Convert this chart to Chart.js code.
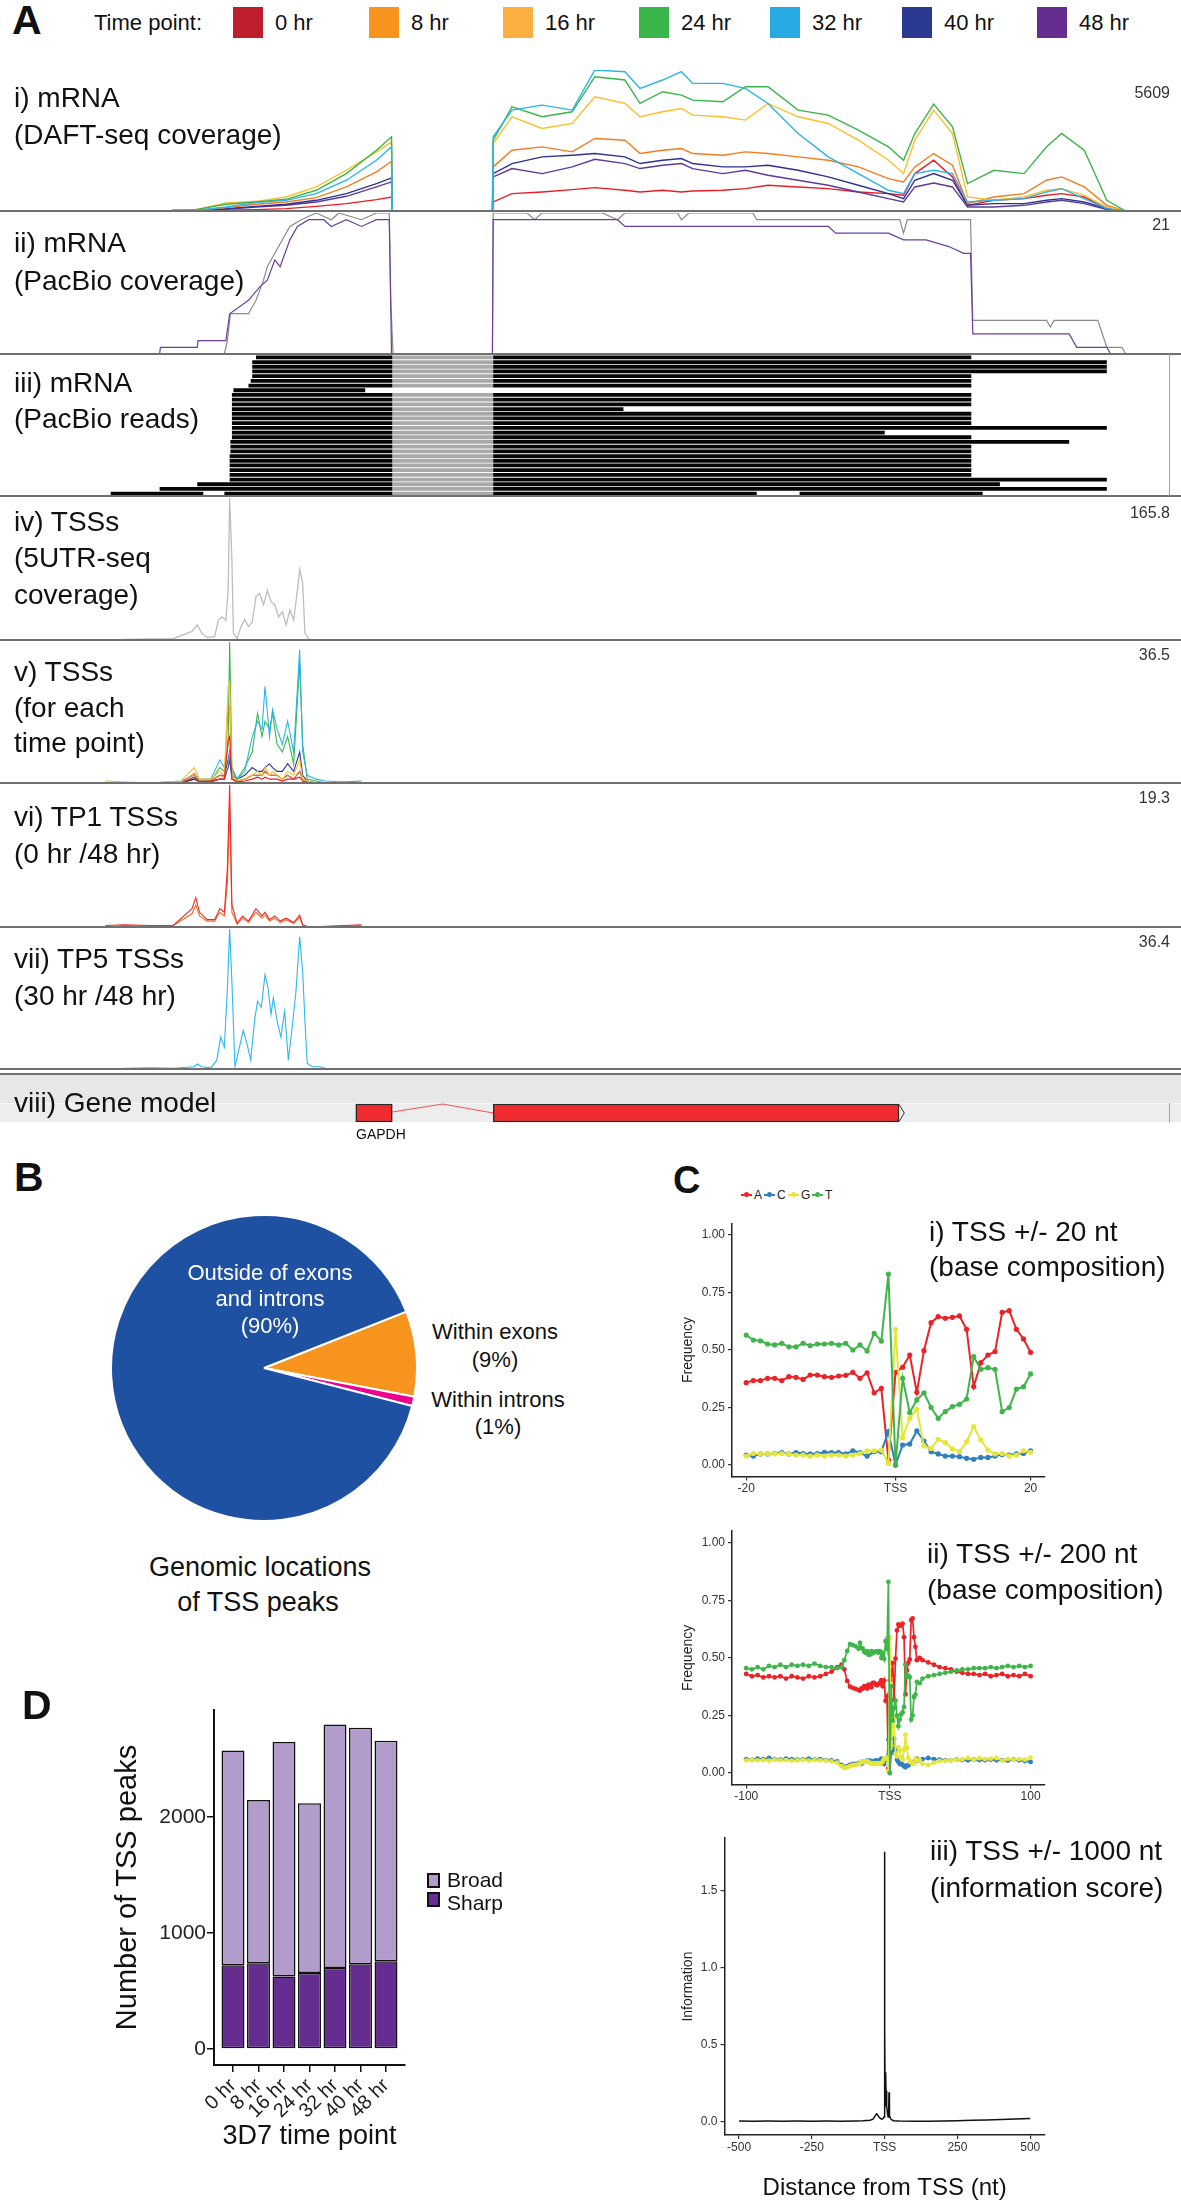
<!DOCTYPE html>
<html>
<head>
<meta charset="utf-8">
<title>TSS figure</title>
<script src="https://cdn.jsdelivr.net/npm/chart.js"></script>
<style>
  html, body { margin:0; padding:0; background:#ffffff; }
  body { position:relative; width:1181px; height:2204px; overflow:hidden;
         font-family:"Liberation Sans", Arial, Helvetica, sans-serif; color:#111; }
  .t { position:absolute; white-space:nowrap; line-height:1; z-index:3; }
  canvas { position:absolute; display:block; z-index:1; }
  .blk { position:absolute; z-index:0; }
</style>
</head>
<body>
<script>
// ===================== DATA =====================
// ---- Panel A : time points ----
const timePoints = ['0 hr','8 hr','16 hr','24 hr','32 hr','40 hr','48 hr'];

// genomic window (relative bp)
const GENOME_MAX = 3137;

// i) DAFT-seq coverage : exon-1 block and exon-2 block
const daftPos1 = [456,520,600,680,760,840,920,1000,1040,1042];
const daft0hr_1  = [0,0,27,53,93,186,292,452,558,0];
const daft8hr_1  = [13,27,133,266,359,532,957,1555,1980,0];
const daft16hr_1 = [27,53,319,385,558,957,1621,2352,2751,0];
const daft24hr_1 = [27,53,266,359,465,824,1488,2419,2950,0];
const daft32hr_1 = [13,27,159,332,425,691,1223,2020,2552,0];
const daft40hr_1 = [0,13,93,186,266,425,691,1090,1316,0];
const daft48hr_1 = [0,13,66,159,226,359,585,957,1156,0];

const daftPos2 = [1308,1310,1360,1440,1520,1580,1660,1700,1760,1810,1840,1920,1980,2040,2120,2200,2280,2360,2400,2430,2480,2530,2570,2640,2720,2780,2820,2880,2940,2990];
const daft0hr_2  = [0,359,691,758,851,930,824,758,824,758,797,824,891,1023,957,891,758,691,625,1488,2020,1356,226,425,492,625,691,558,93,0];
const daft8hr_2  = [0,1754,2419,2552,2352,2884,2817,2286,2419,2485,2286,2219,2352,2286,2153,2020,1754,1289,1156,1754,2286,1821,292,558,691,1223,1356,957,226,0];
const daft16hr_2 = [0,2685,3748,3283,3482,4545,4279,3748,3947,4080,3814,3748,3615,4279,3748,3482,2817,2020,1488,2817,4014,3083,558,425,558,824,890,625,159,0];
const daft24hr_2 = [0,2817,4146,3748,3947,5343,5210,4279,4745,4612,4412,4346,4944,4944,4014,3814,3216,2552,2020,3083,4253,3349,1090,1621,1488,2552,3083,2419,425,0];
const daft32hr_2 = [0,2950,4014,4213,4014,5609,5542,4877,5210,5542,5077,5077,4877,4279,3083,2153,1488,824,691,1488,1621,1488,359,425,492,758,890,492,93,0];
const daft40hr_2 = [0,1488,1887,2153,2219,2286,2153,1887,2020,2087,1887,1754,1754,1821,1621,1356,1023,691,492,1223,1488,1223,226,292,292,425,492,359,93,0];
const daft48hr_2 = [0,1356,1688,1488,1754,2060,1887,1688,1821,1887,1688,1488,1621,1422,1223,1023,758,492,359,957,1116,957,159,159,226,359,425,292,53,0];

// ii) PacBio coverage
const pbGrayPos = [596,604,612,660,680,700,710,740,770,800,840,880,900,960,1000,1034,1038,1044,1308,1310,1400,1420,1440,1600,1640,1660,1800,1810,1830,2000,2010,2390,2400,2410,2578,2584,2780,2790,2800,2916,2940,2980,2990];
const pbGrayCov = [0,2,6,6,8,11,13,16,19,20,21,20,21,20,21,21,8,0,0,21,21,20,21,21,20,21,21,20,21,21,20,20,18,20,20,5,5,4,5,5,1,1,0];
const pbPurplePos = [424,426,524,526,600,610,660,690,710,730,744,770,790,820,860,880,920,960,1000,1034,1040,1308,1310,1640,1660,2200,2220,2360,2400,2460,2520,2560,2578,2584,2840,2860,2940,2950];
const pbPurpleCov = [0,1,1,2,2,6,8,10,11,14,13,17,19,20,20,19,20,19,20,20,0,0,20,20,19,19,18,18,17,17,16,15,15,3,3,1,1,0];

// iii) PacBio reads (row, start, end)
const readRow   = [1,2,3,4,5,6,7,8,9,10,11,12,13,14,15,16,17,18,19,20,21,22,23,24,25,26,27,28,29,30,30,30];
const readStart = [680,670,670,670,670,666,660,620,616,616,616,616,616,616,616,616,616,616,612,612,612,610,610,610,610,610,610,524,424,294,596,2124];
const readEnd   = [2580,2940,2940,2940,2580,2580,2580,970,2580,2580,2580,1656,2580,2580,2580,2940,2350,2580,2840,2580,2580,2580,2580,2580,2580,2580,2940,2656,2940,540,2010,2610];

// iv) 5UTR-seq coverage
const tss5Pos = [330,400,460,510,524,536,550,570,580,590,600,606,610,616,620,630,640,650,660,670,680,690,700,710,720,730,740,750,760,770,780,790,796,804,810,820,840];
const tss5Cov = [0.8,1.2,1.6,10,17.5,8,3,4,23,27,23,58,165.8,93,8,2,15.6,24,15.6,21,50.6,54.5,40.9,58,44.7,40.9,27,33,17.5,35,23,58,82.5,66,8,1,0];

// v) TSSs for each time point
const tsTpPos = [280,400,480,516,530,560,584,596,606,610,616,630,650,670,684,696,704,716,724,736,750,764,780,796,804,816,840,864,960];
const ts0hr  = [0,0,0,1.5,0.3,0.5,1,1,11,12,1,0.3,0.5,1,1.5,1,1.5,1,1,1,0.5,1,1,1.5,0.5,0,0,0,0];
const ts8hr  = [0,0,0,2.5,0.5,0.5,2,1.5,20,20,1,0.5,1,2,2,2,3,2,2,2,1,2,1,3,1,0,0,0,0];
const ts16hr = [0.5,0,0.5,4,1,1,3,2,25,26,2,0.5,1,2,3,2,4,2,3,2,1,3,2,6,1,0.5,0,0,0];
const ts24hr = [0,0,0,1.5,0.5,0.5,4,3,10,36.5,4,1,4,8,18,12,16,14,18,10,8,12,5,31,10,1,0.5,0,0.5];
const ts32hr = [0,0,0.5,2,1,1,6,4,5,8,3,1,3,12,16,14,25,12,19,14,10,16,8,34.5,8,2,1,0.5,0];
const ts40hr = [0,0,0,1,0.5,0.5,2,2,6,8,2,1,2,4,3,3,4,5,4,3,3,5,3,8,2,0.5,0,0,0];
const ts48hr = [0,0,0,1,0.3,0.3,1,1,4,6,1,0.5,1,2,2,2,3,2,2,2,1,2,1,3,1,0.3,0,0,0];

// vi) TP1 TSSs
const tp1Pos = [280,330,400,460,510,520,530,550,570,584,596,604,610,616,630,644,660,680,696,704,716,730,744,760,780,796,804,820,960];
const tp1Rep0hr  = [0.2,0.3,0.2,0.2,2.5,4,2,1,1,2.5,2,8,19.3,3,0.5,1.5,0.8,2.5,1.5,2,1,1.5,0.8,1.2,0.6,1.6,0.3,0,0.3];
const tp1Rep48hr = [0,0.2,0.1,0.2,1.8,3,1.5,0.8,0.8,2,1.5,6,16,2,0.4,1.2,0.6,2,1.2,1.6,0.8,1.2,0.6,1,0.5,1.3,0.2,0,0.2];

// vii) TP5 TSSs
const tp5Pos = [330,400,460,516,524,536,560,576,586,596,604,610,616,624,636,646,656,666,676,684,694,704,712,720,726,736,746,756,766,776,786,796,804,810,816,830,850,864,880];
const tp5Cov = [0.2,0.3,0.2,0.6,1.3,0.6,0.3,2.3,8.3,5.7,21,36.4,22.7,0.6,5.7,10,6.6,2.3,12.5,17.6,16,24.5,21,14.2,18.5,12.5,8.3,15,2.3,10.8,20,34.3,25.3,12.5,1.5,0.6,0.6,0.2,0];

// viii) Gene model (GAPDH)
const geneName = 'GAPDH';
const exonStart = [945, 1310];
const exonEnd   = [1042, 2388];

// track data-range labels
const trackMax = [5609, 21, null, 165.8, 36.5, 19.3, 36.4];

// ---- Panel B ----
const pieLabels  = ['Within exons', 'Within introns', 'Outside of exons and introns'];
const piePercent = [9, 1, 90];

// ---- Panel C ----
const baseNames = ['A','C','G','T'];
const ciPos = [-20,-19,-18,-17,-16,-15,-14,-13,-12,-11,-10,-9,-8,-7,-6,-5,-4,-3,-2,-1,0,1,2,3,4,5,6,7,8,9,10,11,12,13,14,15,16,17,18,19,20];
const ciA = [0.358,0.367,0.367,0.377,0.377,0.367,0.384,0.381,0.372,0.391,0.391,0.384,0.381,0.387,0.39,0.403,0.377,0.401,0.314,0.333,0.022,0.403,0.425,0.478,0.316,0.497,0.619,0.645,0.638,0.642,0.648,0.59,0.341,0.445,0.478,0.493,0.664,0.671,0.59,0.548,0.49];
const ciC = [0.043,0.039,0.048,0.048,0.05,0.054,0.048,0.054,0.05,0.048,0.05,0.055,0.054,0.054,0.048,0.062,0.054,0.039,0.058,0.058,0.145,0,0.087,0.091,0.148,0.104,0.058,0.048,0.039,0.039,0.036,0.029,0.025,0.033,0.033,0.039,0.046,0.043,0.048,0.05,0.062];
const ciG = [0.039,0.05,0.048,0.05,0.048,0.05,0.048,0.043,0.043,0.039,0.043,0.039,0.043,0.043,0.039,0.043,0.05,0.062,0.062,0.065,0.007,0.59,0.119,0.203,0.242,0.083,0.072,0.112,0.097,0.07,0.058,0.101,0.167,0.109,0.065,0.048,0.05,0.039,0.043,0.062,0.055];
const ciT = [0.565,0.543,0.54,0.526,0.522,0.529,0.514,0.514,0.529,0.519,0.526,0.526,0.529,0.522,0.529,0.5,0.522,0.496,0.572,0.539,0.83,0,0.377,0.228,0.283,0.314,0.25,0.203,0.232,0.254,0.264,0.287,0.471,0.416,0.423,0.416,0.232,0.25,0.33,0.34,0.396];

const ciiUpPos = [-100,-96,-92,-88,-84,-80,-76,-72,-68,-64,-60,-56,-52,-48,-44,-40,-36,-33,-31,-29,-27,-25,-23,-21];
const ciiUpA = [0.43,0.42,0.425,0.415,0.42,0.415,0.42,0.41,0.42,0.415,0.41,0.42,0.415,0.42,0.43,0.44,0.46,0.47,0.45,0.4,0.375,0.37,0.365,0.36];
const ciiUpC = [0.06,0.058,0.062,0.06,0.065,0.06,0.058,0.062,0.06,0.058,0.06,0.062,0.058,0.06,0.056,0.055,0.05,0.035,0.025,0.03,0.035,0.04,0.04,0.043];
const ciiUpG = [0.055,0.058,0.055,0.056,0.054,0.058,0.055,0.056,0.054,0.055,0.058,0.054,0.056,0.055,0.054,0.05,0.045,0.03,0.022,0.025,0.03,0.035,0.035,0.04];
const ciiUpT = [0.455,0.45,0.46,0.45,0.465,0.46,0.47,0.46,0.47,0.465,0.47,0.465,0.475,0.465,0.46,0.46,0.455,0.46,0.49,0.53,0.56,0.555,0.55,0.54];
const ciiDownPos = [22,24,28,32,36,40,44,48,52,56,60,64,68,72,76,80,84,88,92,96,100];
const ciiDownA = [0.5,0.49,0.48,0.47,0.46,0.455,0.45,0.44,0.435,0.43,0.43,0.425,0.43,0.42,0.425,0.43,0.42,0.425,0.42,0.43,0.42];
const ciiDownC = [0.055,0.06,0.065,0.06,0.058,0.056,0.055,0.058,0.056,0.055,0.058,0.056,0.055,0.058,0.055,0.056,0.054,0.058,0.055,0.052,0.048];
const ciiDownG = [0.055,0.04,0.035,0.045,0.052,0.054,0.055,0.057,0.059,0.065,0.057,0.064,0.06,0.062,0.065,0.054,0.061,0.057,0.06,0.058,0.067];
const ciiDownT = [0.39,0.41,0.42,0.425,0.43,0.435,0.44,0.445,0.45,0.45,0.455,0.455,0.455,0.46,0.455,0.46,0.465,0.46,0.465,0.46,0.465];

const ciiiPos  = [-500,-450,-400,-350,-300,-250,-200,-150,-100,-75,-50,-40,-35,-30,-28,-25,-20,-15,-10,-5,-2,-1,0,1,2,3,4,5,6,7,8,10,12,14,15,16,17,20,25,30,50,100,150,200,250,300,350,400,450,475,500];
const ciiiInfo = [0.003,0.002,0.003,0.002,0.003,0.002,0.003,0.002,0.004,0.005,0.008,0.015,0.03,0.045,0.05,0.045,0.03,0.02,0.015,0.02,0.03,0.1,1.75,0.6,0.1,0.3,0.32,0.15,0.1,0.2,0.1,0.05,0.03,0.1,0.19,0.15,0.04,0.02,0.01,0.005,0.003,0.002,0.002,0.003,0.005,0.008,0.01,0.013,0.016,0.018,0.02];

const freqTicks = [0, 0.25, 0.5, 0.75, 1];
const freqTickLabels = ['0.00','0.25','0.50','0.75','1.00'];
const ciXTicks = [-20, 1, 20];      const ciXTickLabels = ['-20','TSS','20'];
const ciiXTicks = [-100, 1, 100];   const ciiXTickLabels = ['-100','TSS','100'];
const ciiiXTicks = [-500,-250,0,250,500]; const ciiiXTickLabels = ['-500','-250','TSS','250','500'];
const infoTicks = [0, 0.5, 1, 1.5]; const infoTickLabels = ['0.0','0.5','1.0','1.5'];

// ---- Panel D ----
const dTimeLabels = ['0 hr','8 hr','16 hr','24 hr','32 hr','40 hr','48 hr'];
const sharpPeaks = [721, 739, 624, 655, 698, 730, 756];
const broadPeaks = [1851, 1408, 2023, 1463, 2098, 2040, 1902];
const dYTicks = [0, 1000, 2000];

// ===================== STYLE / HELPERS =====================
Chart.defaults.font.family = '"Liberation Sans", Arial, Helvetica, sans-serif';
Chart.defaults.color = '#222';
const legendColors = ['#be1e2d','#f7941d','#fbb040','#39b54a','#27aae1','#2b3990','#662d91'];
const lineColors   = ['#ed1c24','#f47b20','#fcbf2a','#3ab54a','#2ab4e9','#2e3192','#5f3a98'];
const baseColors   = {A:'#ec2227', C:'#2f7fc1', G:'#e6e53a', T:'#3fb54a'};

function addText(str, x, y, size, o) {
  o = o || {};
  const d = document.createElement('div');
  d.className = 't';
  d.textContent = str;
  d.style.left = x + 'px';
  d.style.top = y + 'px';
  d.style.fontSize = size + 'px';
  if (o.bold) d.style.fontWeight = 'bold';
  if (o.color) d.style.color = o.color;
  const tx = o.align === 'center' ? '-50%' : (o.align === 'right' ? '-100%' : '0');
  d.style.transform = 'translate(' + tx + ', -50%)';
  document.body.appendChild(d);
  return d;
}
function addBlock(x, y, w, h, bg, extra) {
  const d = document.createElement('div');
  d.className = 'blk';
  d.style.left = x + 'px'; d.style.top = y + 'px';
  d.style.width = w + 'px'; d.style.height = h + 'px';
  d.style.background = bg;
  if (extra) Object.assign(d.style, extra);
  document.body.appendChild(d);
  return d;
}
function addCanvas(x, y, w, h) {
  const c = document.createElement('canvas');
  c.width = w; c.height = h;
  c.style.left = x + 'px'; c.style.top = y + 'px';
  c.style.width = w + 'px'; c.style.height = h + 'px';
  document.body.appendChild(c);
  return c;
}
const pts = (xs, ys) => xs.map((x, i) => ({x: x, y: ys[i]}));
const baseOpts = {
  responsive: false, animation: false, events: [], devicePixelRatio: 1,
  plugins: { legend: { display: false }, tooltip: { enabled: false } }
};

// ===================== PANEL A =====================
addText('A', 12, 20, 41, {bold:true});
addText('Time point:', 94, 23, 22);
const swX = [233, 369, 503, 639, 770, 902, 1037];
timePoints.forEach((tp, i) => {
  addBlock(swX[i], 7, 30, 31, legendColors[i]);
  addText(tp, swX[i] + 42, 23, 22);
});

function trackChart(top, bottom, ymax, datasets) {
  const cv = addCanvas(0, top, 1181, bottom - top);
  return new Chart(cv, {
    type: 'line',
    data: { datasets: datasets },
    options: Object.assign({}, baseOpts, {
      layout: { padding: 0 },
      elements: { point: { radius: 0 }, line: { tension: 0 } },
      scales: {
        x: { type: 'linear', min: 0, max: GENOME_MAX, display: false, offset: false },
        y: { type: 'linear', min: 0, max: ymax, display: false, offset: false }
      }
    })
  });
}
const lineDs = (label, xs, ys, color, w) => ({
  label: label, data: pts(xs, ys), borderColor: color, backgroundColor: color,
  borderWidth: w || 1.3, pointRadius: 0, clip: false, fill: false
});

// i) DAFT-seq coverage
const daft1 = [daft0hr_1, daft8hr_1, daft16hr_1, daft24hr_1, daft32hr_1, daft40hr_1, daft48hr_1];
const daft2 = [daft0hr_2, daft8hr_2, daft16hr_2, daft24hr_2, daft32hr_2, daft40hr_2, daft48hr_2];
const daftOrder = [6, 3, 2, 1, 0, 4, 5];
trackChart(70, 211, 5609, timePoints.map((tp, i) => Object.assign(
  lineDs(tp, daftPos1.concat(daftPos2), daft1[i].concat(daft2[i]), lineColors[i], 1.4),
  { order: daftOrder[i] })));

// ii) PacBio coverage
trackChart(213, 354, 21, [
  lineDs('48 hr', pbPurplePos, pbPurpleCov, '#6b3fa0', 1.2),
  lineDs('all', pbGrayPos, pbGrayCov, '#8a8a8a', 1.2)
]);

// iii) PacBio reads (floating horizontal bars)
(function () {
  const rows = Array.from(new Set(readRow)).map(String);
  const blocks = [], gaps = [];
  const intronS = exonEnd[0], intronE = exonStart[1];
  readRow.forEach((r, i) => {
    const s = readStart[i], e = readEnd[i], row = String(r);
    if (s < intronS && e > intronE) {
      blocks.push({y: row, x: [s, intronS]});
      gaps.push({y: row, x: [intronS, intronE]});
      blocks.push({y: row, x: [intronE, e]});
    } else {
      blocks.push({y: row, x: [s, e]});
    }
  });
  const cv = addCanvas(0, 355, 1181, 141);
  new Chart(cv, {
    type: 'bar',
    data: { labels: rows, datasets: [
      { label: 'aligned', data: blocks, backgroundColor: '#050505', grouped: false, barPercentage: 0.8, categoryPercentage: 1 },
      { label: 'splice gap', data: gaps, backgroundColor: '#a9a9a9', grouped: false, barPercentage: 0.8, categoryPercentage: 1 }
    ]},
    options: Object.assign({}, baseOpts, {
      indexAxis: 'y',
      layout: { padding: 0 },
      scales: {
        x: { type: 'linear', min: 0, max: GENOME_MAX, display: false, offset: false },
        y: { type: 'category', labels: rows, display: false }
      }
    })
  });
})();

// iv) 5UTR-seq coverage
trackChart(498, 640, 165.8, [lineDs('5UTR-seq', tss5Pos, tss5Cov, '#bdbdbd', 1.3)]);

// v) TSSs for each time point
const tsAll = [ts0hr, ts8hr, ts16hr, ts24hr, ts32hr, ts40hr, ts48hr];
const tsOrder = [0, 2, 1, 4, 3, 5, 6];
trackChart(642, 783, 36.5, timePoints.map((tp, i) => Object.assign(
  lineDs(tp, tsTpPos, tsAll[i], lineColors[i], 1.1), { order: tsOrder[i] })));

// vi) TP1 TSSs
trackChart(785, 927, 19.3, [
  lineDs('0 hr', tp1Pos, tp1Rep0hr, '#ee2a24', 1.1),
  lineDs('48 hr', tp1Pos, tp1Rep48hr, '#f46a2c', 1.1)
]);

// vii) TP5 TSSs
trackChart(929, 1069, 36.4, [lineDs('30 hr', tp5Pos, tp5Cov, '#2cb8ee', 1.1)]);

// separators & gene-model band
[211, 354, 496, 640, 783, 927, 1069, 1074].forEach(y => addBlock(0, y - 1, 1181, 2, '#707070', {zIndex: 2}));
addBlock(1169, 354, 1, 142, '#8fa6bf', {zIndex: 2});
addBlock(0, 1075, 1181, 28, '#e7e7e7');
addBlock(0, 1103, 1181, 1, '#f7f7f7');
addBlock(0, 1104, 1181, 18, '#ededed');
addBlock(1169, 1103, 1, 20, '#9aa9b8');

// viii) gene model
(function () {
  const cv = addCanvas(0, 1096, 1181, 34);
  const exonLevel = 17;
  const intronX = [exonEnd[0], (exonEnd[0] + exonStart[1]) / 2, exonStart[1]];
  const intronY = [18, 26, 17];
  new Chart(cv, {
    type: 'bar',
    data: { datasets: [
      { type: 'bar', label: geneName, indexAxis: 'y',
        data: exonStart.map((s, i) => ({y: exonLevel, x: [s, exonEnd[i]]})),
        backgroundColor: '#ef2b30', borderColor: '#2a2a2a', borderWidth: 1.5, borderSkipped: false,
        barThickness: 18, order: 0 },
      { type: 'line', label: 'intron', indexAxis: 'x', data: pts(intronX, intronY),
        borderColor: '#f0585a', borderWidth: 1.2, pointRadius: 0, tension: 0, order: 1 },
      { type: 'line', label: 'strand', indexAxis: 'x',
        data: pts([exonEnd[1], exonEnd[1] + 14, exonEnd[1]], [25.5, 17, 8.5]),
        borderColor: '#333', borderWidth: 1, pointRadius: 0, tension: 0, order: 2 }
    ]},
    options: Object.assign({}, baseOpts, {
      layout: { padding: 0 },
      scales: {
        x: { type: 'linear', min: 0, max: GENOME_MAX, display: false, offset: false, grid: { offset: false } },
        y: { type: 'linear', min: 0, max: 34, display: false, offset: false, grid: { offset: false } }
      }
    })
  });
})();
addText(geneName, 356, 1134, 14, {color:'#111'});

// track labels
const trackLabelLines = [
  ['i) mRNA', 98], ['(DAFT-seq coverage)', 135],
  ['ii) mRNA', 243], ['(PacBio coverage)', 281],
  ['iii) mRNA', 383], ['(PacBio reads)', 419],
  ['iv) TSSs', 522], ['(5UTR-seq', 558], ['coverage)', 595],
  ['v) TSSs', 672], ['(for each', 708], ['time point)', 743],
  ['vi) TP1 TSSs', 817], ['(0 hr /48 hr)', 854],
  ['vii) TP5 TSSs', 959], ['(30 hr /48 hr)', 996],
  ['viii) Gene model', 1103]
];
trackLabelLines.forEach(l => addText(l[0], 14, l[1], 28));
const maxLabelY = [93, 225, null, 513, 655, 798, 942];
trackMax.forEach((m, i) => { if (m !== null) addText(String(m), 1170, maxLabelY[i], 16, {align:'right', color:'#333'}); });

// ===================== PANEL B =====================
addText('B', 14, 1177, 41, {bold:true});
(function () {
  const cv = addCanvas(110, 1214, 308, 308);
  new Chart(cv, {
    type: 'pie',
    data: { labels: pieLabels, datasets: [{
      data: piePercent,
      backgroundColor: ['#f7941e', '#ec008c', '#1f51a2'],
      borderColor: '#ffffff', borderWidth: 2
    }]},
    options: Object.assign({}, baseOpts, { rotation: 68.4, layout: { padding: 0 } })
  });
})();
addText('Outside of exons', 270, 1273, 22, {align:'center', color:'#ffffff'});
addText('and introns', 270, 1299, 22, {align:'center', color:'#ffffff'});
addText('(' + piePercent[2] + '%)', 270, 1326, 22, {align:'center', color:'#ffffff'});
addText(pieLabels[0], 495, 1332, 22, {align:'center'});
addText('(' + piePercent[0] + '%)', 495, 1360, 22, {align:'center'});
addText(pieLabels[1], 498, 1400, 22, {align:'center'});
addText('(' + piePercent[1] + '%)', 498, 1427, 22, {align:'center'});
addText('Genomic locations', 260, 1567, 27, {align:'center'});
addText('of TSS peaks', 258, 1602, 27, {align:'center'});

// ===================== PANEL C =====================
addText('C', 673, 1180, 38, {bold:true});
// legend
const legX = [741, 764, 788, 812];
baseNames.forEach((b, i) => {
  addBlock(legX[i], 1194, 11, 2, baseColors[b], {zIndex: 3});
  addBlock(legX[i] + 3, 1192, 5, 5, baseColors[b], {zIndex: 3, borderRadius: '50%'});
  addText(b, legX[i] + 13, 1195, 12, {color:'#222'});
});

function cAxisX(min, max, tv, tl, h, title) {
  return {
    type: 'linear', min: min, max: max,
    afterBuildTicks: s => { s.ticks = tv.map(v => ({value: v})); },
    afterFit: s => { s.height = h; },
    ticks: { autoSkip: false, maxRotation: 0, minRotation: 0, font: {size: 12}, color: '#333', padding: 1,
             callback: (v, i) => tl[i] },
    grid: { drawOnChartArea: false, drawTicks: true, tickLength: 4, color: '#333', lineWidth: 1.2 },
    border: { display: true, color: '#222', width: 1.5 },
    title: title || { display: false }
  };
}
function cAxisY(min, max, tv, tl, w, titleText, titlePad) {
  return {
    type: 'linear', min: min, max: max,
    afterBuildTicks: s => { s.ticks = tv.map(v => ({value: v})); },
    afterFit: s => { s.width = w; },
    ticks: { autoSkip: false, font: {size: 12}, color: '#333', padding: 3, callback: (v, i) => tl[i] },
    grid: { drawOnChartArea: false, drawTicks: true, tickLength: 4, color: '#333', lineWidth: 1.2 },
    border: { display: true, color: '#222', width: 1.5 },
    title: { display: true, text: titleText, font: {size: 14}, color: '#222', padding: {top: titlePad, bottom: 0} }
  };
}
function baseDs(name, xs, ys, r, w, order) {
  return { label: name, data: pts(xs, ys), borderColor: baseColors[name], backgroundColor: baseColors[name],
           pointBackgroundColor: baseColors[name], pointBorderWidth: 0, pointRadius: r, borderWidth: w,
           tension: 0, order: order, clip: false };
}
const baseOrder = {A: 3, C: 2, G: 1, T: 0};

// C i)
(function () {
  const cv = addCanvas(640, 1210, 420, 290);
  const series = {A: ciA, C: ciC, G: ciG, T: ciT};
  new Chart(cv, {
    type: 'line',
    data: { datasets: baseNames.map(b => baseDs(b, ciPos, series[b], 2.6, 2, baseOrder[b])) },
    options: Object.assign({}, baseOpts, {
      layout: { padding: { left: 0, top: 13.5, right: 15.2, bottom: 0 } },
      scales: {
        x: cAxisX(-22, 22, ciXTicks, ciXTickLabels, 23.5),
        y: cAxisY(-0.05, 1.05, freqTicks, freqTickLabels, 92, 'Frequency', 39.6)
      }
    })
  });
})();
addText('i) TSS +/- 20 nt', 929, 1232, 28);
addText('(base composition)', 929, 1267, 28);

// C ii)
(function () {
  const cv = addCanvas(640, 1520, 420, 288);
  const pos = ciiUpPos.concat(ciPos, ciiDownPos);
  const series = {
    A: ciiUpA.concat(ciA, ciiDownA), C: ciiUpC.concat(ciC, ciiDownC),
    G: ciiUpG.concat(ciG, ciiDownG), T: ciiUpT.concat(ciT, ciiDownT)
  };
  new Chart(cv, {
    type: 'line',
    data: { datasets: baseNames.map(b => baseDs(b, pos, series[b], 2.4, 1.7, baseOrder[b])) },
    options: Object.assign({}, baseOpts, {
      layout: { padding: { left: 0, top: 11.2, right: 15.2, bottom: 0 } },
      scales: {
        x: cAxisX(-110, 110, ciiXTicks, ciiXTickLabels, 23.5),
        y: cAxisY(-0.05, 1.05, freqTicks, freqTickLabels, 92, 'Frequency', 39.6)
      }
    })
  });
})();
addText('ii) TSS +/- 200 nt', 927, 1554, 28);
addText('(base composition)', 927, 1590, 28);

// C iii)
(function () {
  const cv = addCanvas(640, 1828, 420, 376);
  new Chart(cv, {
    type: 'line',
    data: { datasets: [{ label: 'Information', data: pts(ciiiPos, ciiiInfo), borderColor: '#111',
                         borderWidth: 1.5, pointRadius: 0, tension: 0, clip: false }] },
    options: Object.assign({}, baseOpts, {
      layout: { padding: { left: 0, top: 10, right: 15.2, bottom: 0 } },
      scales: {
        x: cAxisX(-550, 550, ciiiXTicks, ciiiXTickLabels, 69,
                  { display: true, text: 'Distance from TSS (nt)', font: {size: 24}, color: '#111', padding: {top: 0, bottom: 1.6} }),
        y: cAxisY(-0.0875, 1.8375, infoTicks, infoTickLabels, 84.5, 'Information', 39.6)
      }
    })
  });
})();
addText('iii) TSS +/- 1000 nt', 930, 1851, 28);
addText('(information score)', 930, 1888, 28);

// ===================== PANEL D =====================
addText('D', 22, 1705, 41, {bold:true});
(function () {
  const cv = addCanvas(0, 1690, 480, 480);
  const xs = dTimeLabels.map((t, i) => i + 1);
  new Chart(cv, {
    type: 'bar',
    data: { datasets: [
      { label: 'Sharp', data: pts(xs, sharpPeaks), backgroundColor: '#662d91', borderColor: '#111',
        borderWidth: 1.5, borderSkipped: false, barPercentage: 0.9, categoryPercentage: 1 },
      { label: 'Broad', data: pts(xs, broadPeaks), backgroundColor: '#b19ccb', borderColor: '#111',
        borderWidth: 1.5, borderSkipped: false, barPercentage: 0.9, categoryPercentage: 1 }
    ]},
    options: Object.assign({}, baseOpts, {
      layout: { padding: { left: 0, top: 20, right: 75, bottom: 0 } },
      scales: {
        x: { type: 'linear', stacked: true, offset: false, min: 0.255, max: 7.745,
             afterBuildTicks: s => { s.ticks = xs.map(v => ({value: v})); },
             afterFit: s => { s.height = 105; },
             ticks: { autoSkip: false, minRotation: 45, maxRotation: 45, font: {size: 20}, color: '#222', padding: 2,
                      callback: (v, i) => dTimeLabels[i] },
             grid: { offset: false, drawOnChartArea: false, drawTicks: true, tickLength: 7, color: '#111', lineWidth: 1.5 },
             border: { display: true, color: '#111', width: 2 },
             title: { display: true, text: '3D7 time point', font: {size: 27}, color: '#111', padding: {top: 0, bottom: 16.8} } },
        y: { type: 'linear', stacked: true, min: -138, max: 2922,
             afterBuildTicks: s => { s.ticks = dYTicks.map(v => ({value: v})); },
             afterFit: s => { s.width = 214; },
             ticks: { font: {size: 21}, color: '#222', padding: 1, callback: (v, i) => String(dYTicks[i]) },
             grid: { drawOnChartArea: false, drawTicks: true, tickLength: 7, color: '#111', lineWidth: 1.5 },
             border: { display: true, color: '#111', width: 2 },
             title: { display: true, text: 'Number of TSS peaks', font: {size: 29}, color: '#111', padding: {top: 110.6, bottom: 0} } }
      }
    })
  });
})();
// legend D
addBlock(427, 1873, 13, 15, '#b19ccb', {border: '2px solid #111', boxSizing: 'border-box', zIndex: 3});
addBlock(427, 1892, 13, 15, '#662d91', {border: '2px solid #111', boxSizing: 'border-box', zIndex: 3});
addText('Broad', 447, 1879, 21);
addText('Sharp', 447, 1902, 21);
</script>
</body>
</html>
